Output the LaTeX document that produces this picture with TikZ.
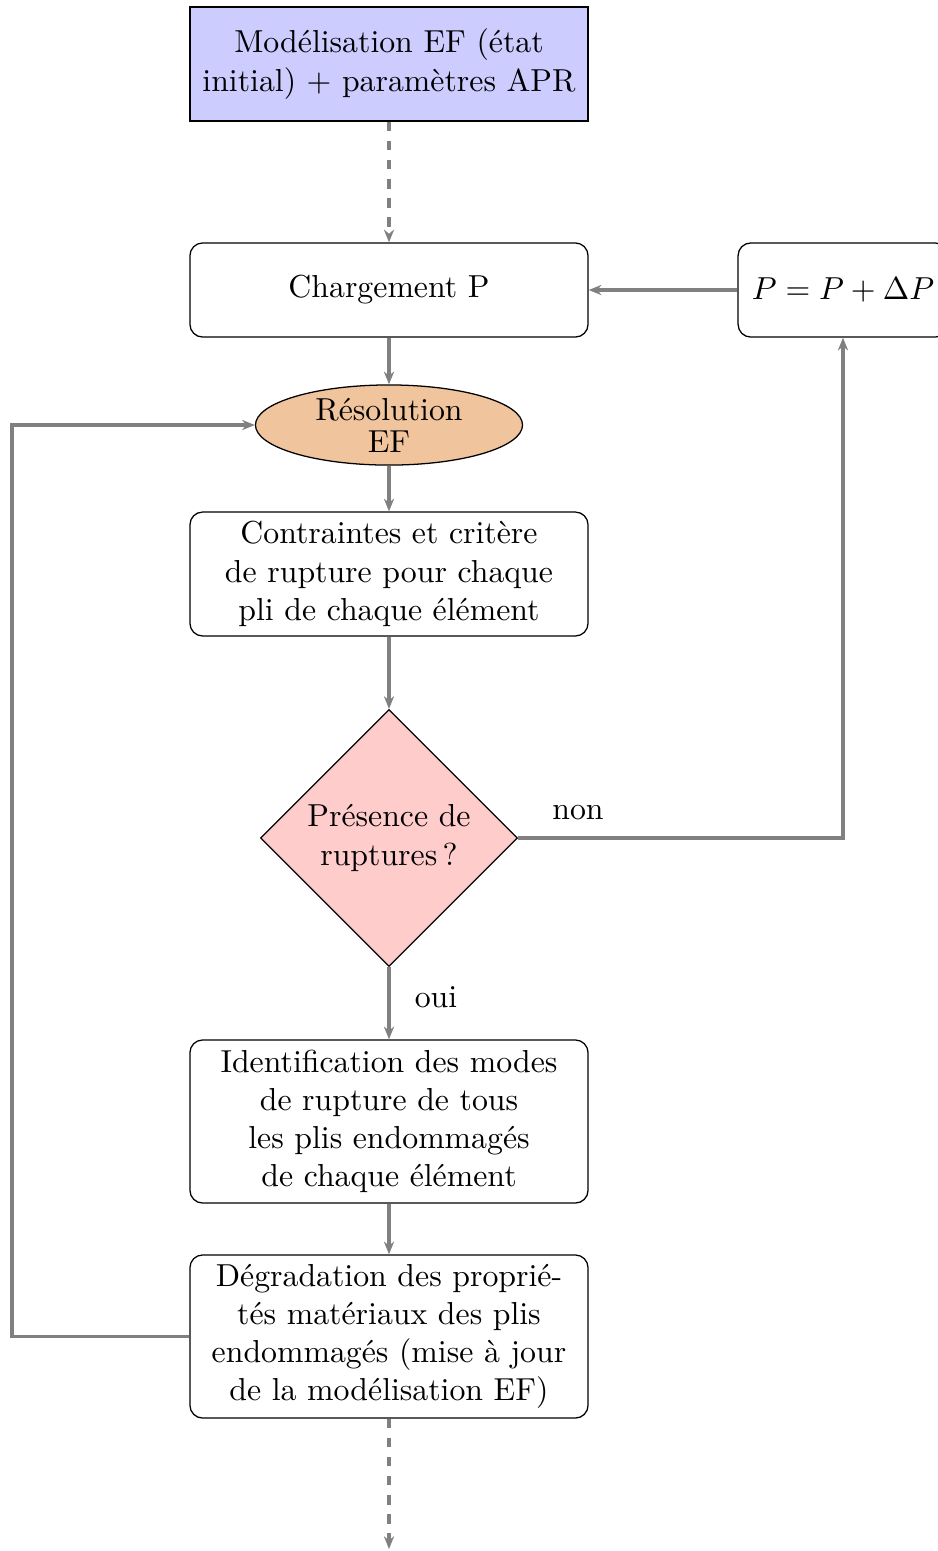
\documentclass[tikz,border=0pt]{standalone}
\usetikzlibrary{shapes.geometric,arrows.meta}
\definecolor{boxblue}{RGB}{204,204,255}
\definecolor{ellorange}{RGB}{240,196,156}
\definecolor{diapink}{RGB}{255,204,204}
\definecolor{linegray}{RGB}{128,128,128}
\tikzset{
  flowbox/.style={draw=black, rounded corners=4pt, align=center, minimum width=125.2pt, inner sep=2pt},
  startbox/.style={draw=black, fill=boxblue, align=center, minimum width=125.2pt, minimum height=35.9pt, inner sep=2pt},
  conn/.style={draw=linegray, line width=1.1pt, -{Stealth[length=4pt,width=3.2pt]}},
  dconn/.style={conn, dashed},
  lbl/.style={inner sep=0pt},
}
\begin{document}
\begin{tikzpicture}[x=0.3145pt, y=-0.3145pt]
\useasboundingbox (0,0) rectangle (938,1551);
\node[startbox] (init) at (389,64) {Modélisation EF (état\\initial) + paramètres APR};
\node[flowbox, minimum height=29.6pt] (charg) at (389,290) {Chargement P};
\node[draw=black, rounded corners=4pt, minimum width=66pt, minimum height=29.6pt, inner sep=2pt] (incr) at (843,290) {$P = P + \Delta P$};
\node[ellipse, draw=black, fill=ellorange, minimum width=84pt, minimum height=25.2pt, inner sep=0pt] (res) at (389,425) {};
\node[lbl, align=center] (restxt) at (389,425) {Résolution\\[-2pt]EF};
\node[flowbox, minimum height=39pt] (contr) at (389,574) {Contraintes et critère\\de rupture pour chaque\\pli de chaque élément};
\node[diamond, draw=black, fill=diapink, minimum width=80.8pt, minimum height=80.8pt, inner sep=0pt, aspect=1, align=center] (dec) at (389,838) {Présence de\\ruptures\,?};
\node[flowbox, minimum height=51.3pt] (ident) at (389,1121.5) {Identification des modes\\de rupture de tous\\les plis endommagés\\de chaque élément};
\node[flowbox, minimum height=51.3pt] (degr) at (389,1336.5) {Dégradation des proprié-\\tés matériaux des plis\\endommagés (mise à jour\\de la modélisation EF)};
\coordinate (endpt) at (389,1549);
\coordinate (looptop) at (12,425);
\node[lbl] (nonlbl) at (578,813) {non};
\node[lbl] (ouilbl) at (436,997) {oui};

\draw[dconn] (init.south) -- (charg.north);
\draw[conn] (incr.west) -- (charg.east);
\draw[conn] (charg.south) -- (res.north);
\draw[conn] (res.south) -- (contr.north);
\draw[conn] (contr.south) -- (dec.north);
\draw[conn] (dec.east) -| (incr.south);
\draw[conn] (dec.south) -- (ident.north);
\draw[conn] (ident.south) -- (degr.north);
\draw[conn] (degr.west) -| (looptop) -- (res.west);
\draw[dconn] (degr.south) -- (endpt);
\end{tikzpicture}
\end{document}
